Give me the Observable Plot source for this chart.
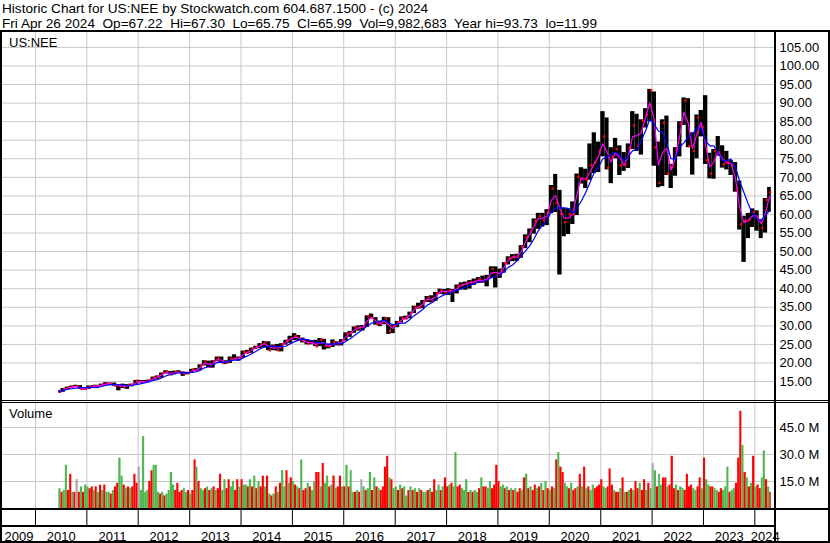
<!DOCTYPE html>
<html><head><meta charset="utf-8">
<script src="https://cdn.jsdelivr.net/npm/d3@7"></script>
<script src="https://cdn.jsdelivr.net/npm/@observablehq/plot@0.6"></script>
<style>
html,body{margin:0;padding:0;background:#fff;}
#chart{position:relative;width:830px;height:543px;overflow:hidden;font-family:"Liberation Sans",Arial,sans-serif;color:#000;}
.t{position:absolute;white-space:pre;font-size:13.6px;line-height:15px;}
.b{position:absolute;background:#000;}
</style></head><body><div id="chart"></div>
<script>
// ---------- DATA ----------
const header1 = "Historic Chart for US:NEE by Stockwatch.com 604.687.1500 - (c) 2024";
const header2 = "Fri Apr 26 2024  Op=67.22  Hi=67.30  Lo=65.75  Cl=65.99  Vol=9,982,683  Year hi=93.73  lo=11.99";
const symbol = "US:NEE";
const firstDay = "2010-06-16";
const lastDay = "2024-04-27";
const viewStart = "2009-05-11T10:00:00Z";
const viewEnd = "2024-05-27T00:00:00Z";
const years = [2009,2010,2011,2012,2013,2014,2015,2016,2017,2018,2019,2020,2021,2022,2023,2024];
const priceTicks = [15,20,25,30,35,40,45,50,55,60,65,70,75,80,85,90,95,100,105];
const volumeTicks = [15,30,45];

// monthly high / low / close, Jun 2010 .. Apr 2024
const hi = [
 12.6,13.1,13.5,13.8,14.0,13.9,13.3,
 13.8,13.9,14.0,14.3,14.7,14.6,14.6,14.2,14.3,14.2,14.3,15.3,
 15.3,15.3,15.4,16.2,16.5,17.3,17.9,17.7,17.8,17.9,17.6,17.5,
 18.3,18.5,19.5,20.6,20.5,20.6,21.6,21.6,20.6,21.6,22.2,21.6,
 23.2,23.4,24.0,24.5,25.2,25.8,25.7,24.8,25.0,25.2,26.1,27.2,
 27.9,27.4,26.7,26.3,26.0,26.1,26.6,26.4,25.0,26.2,25.7,26.3,
 28.1,28.5,29.7,30.0,30.1,32.7,33.2,32.2,31.3,32.3,32.2,30.2,
 31.2,32.4,32.6,33.7,35.3,36.1,36.8,37.9,38.1,39.0,39.9,39.8,
 40.0,39.8,41.0,41.6,41.8,42.2,42.6,43.0,43.4,43.6,45.9,45.9,
 45.3,47.0,48.6,49.2,49.3,51.6,54.5,56.1,58.8,60.3,60.3,61.3,
 67.8,70.8,66.5,61.6,61.5,63.4,70.9,72.6,72.2,79.0,82.0,79.5,
 87.7,86.0,78.0,80.5,78.5,76.7,79.0,87.7,87.0,85.5,88.5,93.7,
 93.0,79.5,85.5,86.5,73.5,78.0,85.0,91.4,91.2,82.0,86.8,88.0,
 92.0,76.5,77.5,81.0,78.5,77.0,74.5,74.0,69.0,59.5,60.3,61.5,
 61.0,58.5,64.3,67.3
];
const lo = [
 12.0,12.1,12.8,13.2,13.4,12.9,12.7,
 12.9,13.4,13.1,13.7,14.0,13.9,13.7,12.5,13.1,12.9,13.6,14.0,
 14.6,14.7,14.7,15.1,15.6,15.9,17.0,16.8,16.8,17.2,16.4,16.8,
 17.2,17.7,18.0,19.2,18.7,18.6,20.3,19.9,19.6,19.9,20.8,20.5,
 21.3,22.4,22.6,23.6,23.9,24.1,23.3,23.3,23.2,23.0,24.8,25.3,
 26.0,25.9,25.4,24.9,24.9,24.4,24.4,23.5,23.8,24.2,24.6,24.6,
 25.9,26.9,28.0,28.6,28.6,29.6,31.9,30.2,29.8,30.3,27.7,27.9,
 29.5,30.8,31.6,31.9,33.3,34.5,34.6,36.3,36.2,36.6,38.5,38.3,
 38.2,36.3,38.6,39.7,39.6,39.9,40.9,41.5,41.5,40.5,42.8,40.2,
 42.8,44.2,46.4,47.3,47.3,48.2,50.8,52.4,54.7,56.0,56.6,57.0,
 60.2,60.5,43.7,54.0,54.6,57.3,59.7,68.2,67.0,69.2,71.0,71.3,
 75.5,72.0,68.3,75.0,70.5,71.6,72.4,77.5,77.0,76.0,83.3,85.0,
 73.0,67.2,67.5,70.5,67.0,70.3,75.5,84.0,78.0,70.6,75.0,80.9,
 73.5,69.6,69.5,75.7,72.5,72.0,70.5,66.0,55.8,47.1,53.5,56.5,
 55.5,53.5,55.0,60.6
];
const cl = [
 12.2,13.0,13.4,13.6,13.75,13.0,13.0,
 13.5,13.85,13.8,14.15,14.5,14.4,13.8,14.0,13.5,14.1,14.15,15.2,
 14.95,14.9,15.3,16.1,16.3,17.2,17.65,16.9,17.6,17.5,17.1,17.3,
 18.2,18.0,19.4,20.4,18.95,20.4,21.4,20.1,20.05,21.2,21.1,21.4,
 23.0,22.8,23.9,24.25,24.9,25.6,23.45,24.65,23.4,25.05,26.0,26.6,
 27.3,26.2,26.0,25.25,25.55,24.5,26.3,24.65,24.4,25.65,25.0,26.0,
 27.95,28.1,29.6,29.4,29.9,32.6,32.1,30.5,30.6,32.0,28.6,29.9,
 31.0,32.15,32.1,33.4,35.1,35.0,36.5,37.6,36.65,38.8,39.5,39.05,
 39.6,39.2,40.8,41.0,41.45,41.75,41.9,42.65,41.9,43.1,45.35,43.45,
 44.75,46.9,48.3,48.6,48.6,51.2,53.9,55.4,58.25,59.6,58.45,60.55,
 67.0,63.2,60.15,57.9,60.1,60.05,70.2,69.6,69.4,73.2,74.0,77.15,
 81.0,72.6,75.6,77.6,73.2,73.3,77.9,84.0,78.5,85.3,86.8,93.4,
 78.1,68.5,84.7,71.0,72.8,77.5,84.5,90.7,78.4,77.1,86.1,83.6,
 74.6,71.0,77.1,76.6,73.5,74.2,73.3,66.8,57.3,58.3,58.5,60.7,
 58.6,56.4,63.9,65.99
];

// volume (millions), two bars per month from 2nd half of June 2010
const volume = [
 11, 9,10, 24,10, 19,9, 9,16, 9,12, 9,13,
 12,11, 12,10, 12,9, 13,10, 13,9, 9,8, 10,12, 14,28, 18,13, 11,12, 11,12, 19,14,
 23,10, 40,9, 10,15, 21,24, 24,9, 8,9, 7,8, 10,20, 13,10, 14,9, 10,11, 9,10,
 8,10, 27,23, 15,11, 10,11, 12,10, 11,12, 10,11, 19,10, 16,11, 16,12, 15,10, 16,12,
 16,13, 13,12, 16,12, 18,11, 15,12, 18,12, 18,8, 7,8, 12,9, 14,21, 12,21, 14,17,
 15,13, 12,11, 27,10, 11,14, 12,10, 15,20, 20,12, 25,14, 18,12, 13,18, 11,12, 18,12,
 12,24, 12,21, 9,9, 10,9, 16,12, 10,11, 20,10, 17,12, 11,10, 12,23, 29,17, 16,11,
 12,10, 13,11, 12,7, 10,12, 10,11, 9,11, 10,9, 9,10, 11,9, 16,10, 13,10, 12,17,
 12,13, 14,12, 31,12, 13,11, 10,16, 9,10, 9,10, 9,11, 17,12, 12,11, 15,11, 13,24,
 15,12, 13,11, 12,10, 11,10, 11,9, 11,10, 17,19, 11,12, 10,13, 11,12, 14,10, 15,11,
 10,12, 11,27, 31,23, 20,14, 12,11, 14,10, 11,12, 19,12, 23,11, 12,10, 13,11, 12,13,
 16,12, 11,12, 22,13, 10,9, 9,11, 17,9, 9,10, 11,10, 15,11, 14,10, 16,10, 14,11,
 25,21, 12,19, 13,17, 17,12, 13,29, 11,13, 10,12, 11,10, 19,12, 13,11, 10,12, 17,11,
 28,16, 13,12, 12,11, 10,9, 11,10, 12,23, 9,10, 11,14, 28,54, 35,20, 17,12, 14,29,
 12,13, 11,17, 32,16, 12,9
];
// u = up, d = down, n = unchanged
const volumeDir = [
 "u du ud du dn du du",
 "ud du du du du ud ud du ud ud ud dd",
 "nu uu ud du uu du du uu ud dd du ud",
 "ud du du ud ud ud ud du ud du ud du",
 "du ud ud ud ud du du du du du ud ud",
 "ud ud ud du du ud du du ud ud ud du",
 "du du ud ud nu du ud ud ud dd du du",
 "ud ud uu du du du du ud ud du ud ud",
 "du du ud du uu du du ud ud du ud dd",
 "du ud ud ud ud du du du dd ud ud ud",
 "ud ud ud du ud ud du du du du ud dd",
 "du ud dd ud du du du du dd ud du du",
 "nu du ud du dd du du ud dd du ud du",
 "du ud du ud du uu du ud dd ud ud ud",
 "ud du ud ud"
].join("").replace(/\s/g, "");

// ---------- BUILD ----------
const D = s => new Date(s);
const first = D(firstDay), last = D(lastDay);
const clampD = d => d < first ? first : (d > last ? last : d);
const price = hi.map((h, i) => ({
  start: clampD(new Date(Date.UTC(2010, 5 + i, 1))),
  end: clampD(new Date(Date.UTC(2010, 6 + i, 1))),
  mid: clampD(new Date(Date.UTC(2010, 5 + i, 15))),
  hi: h, lo: lo[i], cl: cl[i]
}));
const vols = volume.map((v, i) => {
  const h = i + 1, m = Math.floor(h / 2), half = h % 2;
  const s = half ? new Date(Date.UTC(2010, 5 + m, 16)) : new Date(Date.UTC(2010, 5 + m, 1));
  const e = half ? new Date(Date.UTC(2010, 6 + m, 1)) : new Date(Date.UTC(2010, 5 + m, 16));
  return {start: clampD(s), end: clampD(e), v, dir: volumeDir[i] || "u"};
});
const vs = D(viewStart), ve = D(viewEnd);
const yearStarts = years.map(y => new Date(Date.UTC(y, 0, 1))).filter(d => d > vs && d < ve);
const yearLabels = years.map(y => {
  const a = new Date(Math.max(Date.UTC(y, 0, 1), +vs));
  const b = new Date(Math.min(Date.UTC(y + 1, 0, 1), +ve));
  return {mid: new Date((+a + +b) / 2), label: String(y)};
});
const dirColor = {u: "#4db84d", d: "#ff0000", n: "#a8a8a8"};

const xScale = {type: "utc", domain: [vs, ve], range: [2, 775], axis: null};
const baseStyle = {fontFamily: "'Liberation Sans', Arial, sans-serif", fontSize: "13px", color: "#000", background: "transparent", overflow: "visible"};
const GRID = "#c8c8c8";

const pricePlot = Plot.plot({
  width: 830, height: 368, marginLeft: 2, marginRight: 55, marginTop: 0, marginBottom: 0,
  style: baseStyle,
  x: xScale,
  y: {domain: [9.89, 109.02], axis: "right", ticks: priceTicks, tickFormat: d => d.toFixed(2), tickSize: 0, tickPadding: 4, label: null},
  marks: [
    Plot.ruleY(priceTicks, {stroke: GRID, strokeOpacity: 1}),
    Plot.ruleX(yearStarts, {stroke: GRID, strokeOpacity: 1}),
    Plot.rectY(price, {x1: "start", x2: "end", y1: "lo", y2: "hi", fill: "black"}),
    Plot.dot(price, {x: "end", y: "cl", r: 1.3, symbol: "square", fill: "red", stroke: "none", dx: -1}),
    Plot.lineY(price, {...Plot.windowY({k: 2, anchor: "end", reduce: "mean"}, {x: "mid", y: "cl"}), stroke: "#ff00ff", strokeWidth: 1.2}),
    Plot.lineY(price, {...Plot.windowY({k: 5, anchor: "end", reduce: "mean"}, {x: "mid", y: "cl"}), stroke: "#0000ff", strokeWidth: 1.2})
  ]
});

const volumePlot = Plot.plot({
  width: 830, height: 105, marginLeft: 2, marginRight: 55, marginTop: 0, marginBottom: 0,
  style: baseStyle,
  x: xScale,
  y: {domain: [0, 58.33], axis: "right", ticks: volumeTicks, tickFormat: d => d.toFixed(1) + " M", tickSize: 0, tickPadding: 4, label: null},
  color: {type: "identity"},
  marks: [
    Plot.ruleY(volumeTicks, {stroke: GRID, strokeOpacity: 1}),
    Plot.ruleX(yearStarts, {stroke: GRID, strokeOpacity: 1}),
    Plot.rectY(vols, {x1: "start", x2: "end", y: "v", fill: d => dirColor[d.dir]})
  ]
});

const yearPlot = Plot.plot({
  width: 830, height: 31, marginLeft: 2, marginRight: 55, marginTop: 0, marginBottom: 0,
  style: baseStyle,
  x: xScale,
  marks: [
    Plot.ruleX(yearStarts, {stroke: "black", insetBottom: 16}),
    Plot.text(yearLabels, {x: "mid", text: "label", frameAnchor: "bottom", lineAnchor: "bottom", dy: -1, fill: "black", fontSize: 13})
  ]
});

// ---------- LAYOUT ----------
const root = document.getElementById("chart");
function add(el, css) { Object.assign(el.style, css); root.appendChild(el); return el; }
function text(str, left, top) { const d = document.createElement("div"); d.className = "t"; d.textContent = str; return add(d, {left: left + "px", top: top + "px"}); }
function bar(l, t, w, h) { const d = document.createElement("div"); d.className = "b"; return add(d, {left: l + "px", top: t + "px", width: w + "px", height: h + "px"}); }

text(header1, 2, 1);
text(header2, 2, 15.5);
add(pricePlot, {position: "absolute", left: "0px", top: "32px"});
add(volumePlot, {position: "absolute", left: "0px", top: "403px"});
add(yearPlot, {position: "absolute", left: "0px", top: "510px"});
const s1 = text(symbol, 9, 34.5); s1.style.fontSize = "13px";
const s2 = text("Volume", 9, 406); s2.style.fontSize = "13px";

bar(0, 30, 830, 2);       // top rule
bar(0, 30, 2, 513);       // left border
bar(828, 30, 2, 513);     // right border
bar(774, 30, 2, 511);     // axis separator
bar(0, 400, 830, 1);      // price panel double rule
bar(0, 402, 830, 1);
bar(0, 508, 830, 2);      // volume bottom
bar(0, 525, 776, 2);      // year row rule
bar(0, 541, 830, 2);      // bottom border
</script></body></html>
